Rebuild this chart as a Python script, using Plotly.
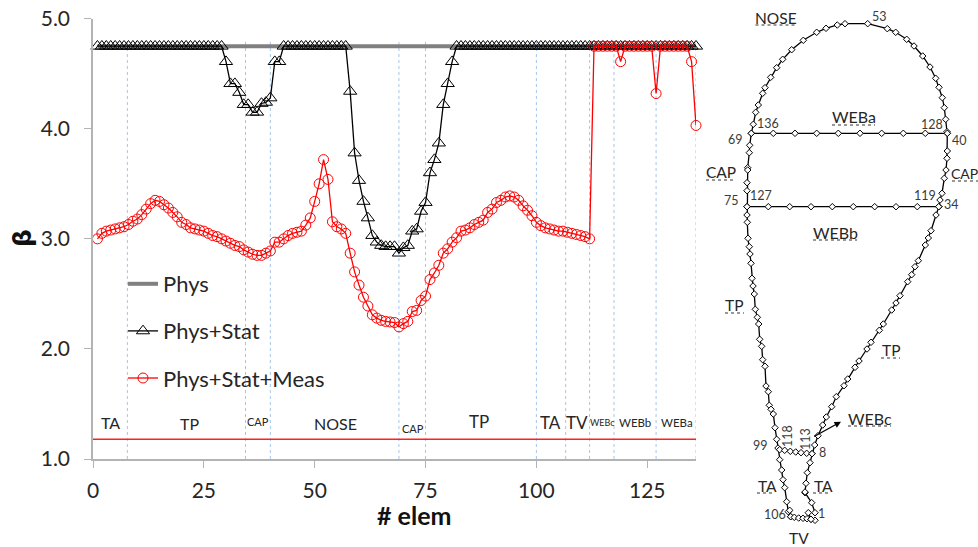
import plotly.graph_objects as go

# ---------- chart data ----------
ELEMENTS = list(range(1, 137))
PHYS = [4.75] * 136
STAT = [4.75] * 29 + [4.61, 4.41, 4.41, 4.33, 4.22, 4.22, 4.15, 4.15, 4.23, 4.24, 4.28, 4.61, 4.61] \
     + [4.75] * 15 + [4.34, 3.78, 3.53, 3.34, 3.19, 3.03, 2.97, 2.94, 2.93, 2.93, 2.93, 2.87, 2.92, 2.94,
                      3.07, 3.09, 3.25, 3.33, 3.60, 3.72, 3.87, 4.22, 4.41, 4.61] + [4.75] * 55
MEAS = [3.00, 3.05, 3.07, 3.08, 3.09, 3.10, 3.11, 3.13, 3.16, 3.18, 3.22, 3.27, 3.32, 3.35, 3.34, 3.31,
        3.28, 3.24, 3.20, 3.15, 3.13, 3.10, 3.09, 3.08, 3.07, 3.05, 3.03, 3.02, 3.00, 2.98, 2.96, 2.94,
        2.93, 2.90, 2.88, 2.86, 2.85, 2.85, 2.87, 2.89, 2.97, 2.97, 3.00, 3.03, 3.05, 3.06, 3.07, 3.125,
        3.19, 3.34, 3.50, 3.72, 3.54, 3.155, 3.11, 3.09, 3.05, 2.87, 2.70, 2.58, 2.47, 2.39, 2.31, 2.28,
        2.26, 2.25, 2.245, 2.24, 2.20, 2.23, 2.25, 2.34, 2.35, 2.44, 2.48, 2.63, 2.69, 2.76, 2.87, 2.91,
        2.97, 3.01, 3.07, 3.08, 3.10, 3.13, 3.15, 3.17, 3.24, 3.27, 3.33, 3.35, 3.38, 3.39, 3.38, 3.35,
        3.30, 3.26, 3.21, 3.15, 3.12, 3.10, 3.09, 3.08, 3.07, 3.07, 3.06, 3.05, 3.04, 3.03, 3.02, 3.00,
        4.75, 4.75, 4.75, 4.75, 4.75, 4.75, 4.61, 4.75, 4.75, 4.75, 4.75, 4.75, 4.75, 4.75, 4.32, 4.75,
        4.75, 4.75, 4.75, 4.75, 4.75, 4.75, 4.61, 4.03]
SECTION_BOUNDS = [7.75, 34.4, 40, 69, 75, 100, 106.6, 112, 117.5, 127, 136]
SECTION_X = [0, 136]
SECTION_Y = [1.18, 1.18]
X_TICKS = [0, 25, 50, 75, 100, 125]
Y_TICKS = [1, 2, 3, 4, 5]

# section labels: text, x, y, size (overlay coordinates)
SECTION_LABELS = [("TA", 110, 422, 16), ("TP", 189, 423, 16), ("CAP", 258, 421, 11), ("NOSE", 335, 423, 16),
                  ("CAP", 413, 428, 11), ("TP", 479, 421, 17), ("TA", 550, 422, 17), ("TV", 577, 422, 17),
                  ("WEBc", 602, 422, 9), ("WEBb", 635, 422, 11.5), ("WEBa", 677, 422, 11.5)]

# ---------- cross-section data (overlay coordinates) ----------
OUTLINE_X = [815.0, 811.7, 805.0, 805.0, 806.0, 807.3, 810.0, 812.0, 814.7, 818.0, 822.7, 826.3, 831.7, 836.3,
             844.0, 847.7, 855.0, 859.0, 867.0, 871.0, 879.3, 883.3, 891.7, 896.0, 900.0, 907.7, 911.7,
             915.0, 918.3, 925.3, 928.3, 931.0, 936.0, 939.0, 940.0, 942.0, 944.3, 946.0, 947.0, 947.3,
             947.3, 947.0, 945.7, 944.3, 942.3, 939.0, 935.7, 930.0, 922.7, 914.0, 906.7, 895.7, 887.3,
             867.7, 845.0, 837.3, 826.0, 816.7, 803.3, 791.7, 782.7, 776.7, 770.7, 765.0, 762.7, 758.3,
             755.7, 753.3, 751.3, 749.7, 749.3, 747.7, 747.7, 747.0, 747.0, 747.0, 747.0, 747.3, 748.0,
             749.3, 750.0, 751.0, 752.0, 753.0, 754.3, 755.3, 757.3, 758.7, 759.7, 761.7, 762.7, 765.0,
             766.0, 768.3, 769.3, 771.0, 773.3, 775.0, 776.7, 778.0, 779.7, 781.7, 783.0, 784.7, 786.7,
             788.3, 789.7, 790.7]
OUTLINE_Y = [512.7, 502.7, 492.7, 492.0, 483.3, 472.7, 462.7, 453.7, 445.0, 435.7, 425.0, 417.0, 406.7, 396.7,
             385.7, 379.0, 367.3, 361.0, 349.0, 342.3, 330.3, 324.0, 310.0, 303.0, 295.7, 281.7, 274.7,
             266.7, 260.7, 245.0, 238.0, 230.7, 215.0, 206.7, 200.0, 193.3, 178.3, 170.0, 158.3, 151.0,
             133.3, 131.7, 119.3, 107.7, 97.7, 87.3, 78.3, 67.0, 56.0, 46.0, 39.3, 32.3, 28.7,
             23.7, 23.7, 25.0, 28.3, 32.3, 40.3, 49.7, 59.3, 67.7, 77.3, 87.7, 93.3, 105.0,
             112.3, 124.3, 133.3, 145.3, 152.7, 167.7, 170.0, 182.7, 190.7, 206.7, 215.0, 222.3, 238.3,
             246.7, 254.0, 263.3, 278.3, 286.0, 294.0, 309.3, 317.3, 324.0, 339.3, 346.3, 359.7, 366.3,
             386.0, 391.7, 405.3, 409.3, 414.0, 427.7, 439.3, 448.0, 459.7, 470.0, 479.7, 487.7, 501.7,
             511.7, 510.3, 516.7]
TV_X = [790.7, 794.3, 798.7, 803.0, 807.0, 811.0, 815.0, 811.0, 808.3]
TV_Y = [516.7, 517.3, 518.0, 518.3, 518.7, 519.3, 520.3, 519.3, 512.7]
WEBA_X = [751.3, 773.3, 795.0, 816.7, 838.3, 860.0, 881.7, 903.3, 925.3, 947.3]
WEBA_Y = [133.3] * 10
WEBB_X = [747.0, 768.3, 789.7, 811.0, 832.3, 853.3, 874.7, 896.0, 917.3, 938.7]
WEBB_Y = [206.7] * 10
WEBC_X = [779.7, 784.7, 790.3, 795.7, 801.0, 806.7, 812.0]
WEBC_Y = [449.7, 450.3, 451.3, 452.0, 452.7, 453.3, 453.7]

SCHEMA_LABELS = [("NOSE", 776, 18, 15.5), ("WEBa", 853.5, 116, 16), ("CAP", 721, 172, 15.5), ("CAP", 964.5, 173, 14),
                 ("WEBb", 835, 232, 16), ("TP", 734, 305, 15.5), ("TP", 891, 350, 15.5), ("WEBc", 870, 418, 16),
                 ("TA", 767, 486, 15.5), ("TA", 823, 486, 15.5), ("TV", 799, 538, 15.5)]
UNDERLINES = [(755.5, 796, 25), (832, 875, 125), (706, 736, 180), (952, 978, 181), (813, 857, 240),
              (725, 744, 313), (881, 900, 358), (848, 891, 426), (757, 775, 493), (813, 831, 493)]
NODE_LABELS = [("53", 879, 16), ("136", 767.5, 123), ("128", 932, 124), ("69", 735, 139), ("40", 959, 140),
               ("127", 761, 195), ("119", 925, 195), ("75", 731, 200), ("34", 951, 204), ("99", 760, 445),
               ("8", 822, 452), ("106", 775, 514), ("1", 821, 513)]
ROTATED_LABELS = [("118", 787, 436), ("113", 805, 439)]

FONT = "Lato, Carlito, sans-serif"
INK = "#262626"
fig = go.Figure()

# section bounds
vx, vy = [], []
for b in SECTION_BOUNDS:
    vx += [b, b, None]
    vy += [1.0, 4.79, None]
fig.add_trace(go.Scatter(x=vx, y=vy, mode="lines", showlegend=False, hoverinfo="skip",
                         line=dict(color="#a9c4e8", width=1, dash="dot")))
fig.add_trace(go.Scatter(x=SECTION_X, y=SECTION_Y, mode="lines", showlegend=False, hoverinfo="skip",
                         line=dict(color="#ff2020", width=1.5)))
fig.add_trace(go.Scatter(x=ELEMENTS, y=PHYS, mode="lines", name="Phys", legendgroup="a",
                         line=dict(color="#808080", width=4)))
fig.add_trace(go.Scatter(x=ELEMENTS, y=STAT, mode="lines+markers", name="Phys+Stat", legendgroup="b", cliponaxis=False,
                         line=dict(color="black", width=1.3),
                         marker=dict(symbol="triangle-up-open", size=11.5, color="black", line=dict(width=1))))
fig.add_trace(go.Scatter(x=ELEMENTS, y=MEAS, mode="lines+markers", name="Phys+Stat+Meas", legendgroup="c", cliponaxis=False,
                         line=dict(color="#ff0000", width=1.3),
                         marker=dict(symbol="circle-open", size=10, color="#ff0000", line=dict(width=1))))

# cross-section
node = dict(symbol="diamond", size=5, color="white", line=dict(color="black", width=1))
for xs, ys in [(OUTLINE_X, OUTLINE_Y), (TV_X, TV_Y), (WEBA_X, WEBA_Y), (WEBB_X, WEBB_Y), (WEBC_X, WEBC_Y)]:
    fig.add_trace(go.Scatter(x=xs, y=ys, xaxis="x2", yaxis="y2", mode="lines+markers", showlegend=False, hoverinfo="skip",
                             line=dict(color="black", width=1.3), marker=node, cliponaxis=False))
ux, uy = [], []
for a, b, y in UNDERLINES:
    ux += [a, b, None]
    uy += [y, y, None]
fig.add_trace(go.Scatter(x=ux, y=uy, xaxis="x2", yaxis="y2", mode="lines", showlegend=False, hoverinfo="skip",
                         line=dict(color="#333333", width=1, dash="dot")))

anns = []
def label(text, x, y, size, color=INK, **kw):
    anns.append(dict(text=text, x=x, y=y, xref="x2", yref="y2", showarrow=False, xanchor="center", yanchor="middle",
                     font=dict(family=kw.pop("family", FONT), size=size, color=color), **kw))

for t, x, y, s in SECTION_LABELS + SCHEMA_LABELS:
    label(t, x, y, s)
for t, x, y in NODE_LABELS:
    label(t, x, y, 12.5, color="#3a3a3a")
for t, x, y in ROTATED_LABELS:
    label(t, x, y, 12.5, color="#3a3a3a", textangle=-90)
label("<b># elem</b>", 414, 515, 25, color="#111111")
label("<b>β</b>", 22, 238, 25, color="#111111", textangle=-90, family="DejaVu Sans")
anns.append(dict(x=841, y=421.7, ax=812.7, ay=437.3, xref="x2", yref="y2", axref="x2", ayref="y2", text="",
                 showarrow=True, arrowhead=2, arrowsize=1, arrowwidth=1.3, arrowcolor="black"))

axis_line = dict(showgrid=False, zeroline=False, showline=True, linecolor="#b3b3b3", linewidth=1.5,
                 ticks="outside", ticklen=7, tickwidth=1.2, tickcolor="#b3b3b3",
                 tickfont=dict(family=FONT, size=21, color=INK))
fig.update_layout(
    width=978, height=547, autosize=False, margin=dict(l=0, r=0, t=0, b=0, pad=0, autoexpand=False),
    paper_bgcolor="white", plot_bgcolor="rgba(0,0,0,0)",
    xaxis=dict(domain=[93 / 978, 696 / 978], range=[0, 136], tickvals=X_TICKS, ticklabelstandoff=5, **axis_line),
    yaxis=dict(domain=[88 / 547, 528.3 / 547], range=[1, 5], tickvals=Y_TICKS, tickformat=".1f", ticklabelstandoff=10, **axis_line),
    xaxis2=dict(domain=[0, 1], range=[0, 978], visible=False, anchor="y2"),
    yaxis2=dict(domain=[0, 1], range=[547, 0], visible=False, anchor="x2"),
    legend=dict(x=123 / 978, y=1 - 263 / 547, xanchor="left", yanchor="top", bgcolor="rgba(0,0,0,0)",
                font=dict(family=FONT, size=22, color=INK), itemwidth=30, tracegroupgap=15.5, traceorder="grouped"),
    annotations=anns, showlegend=True,
)
fig.write_html("out.html", post_script="document.body.style.margin='0';", config={"displayModeBar": False})
